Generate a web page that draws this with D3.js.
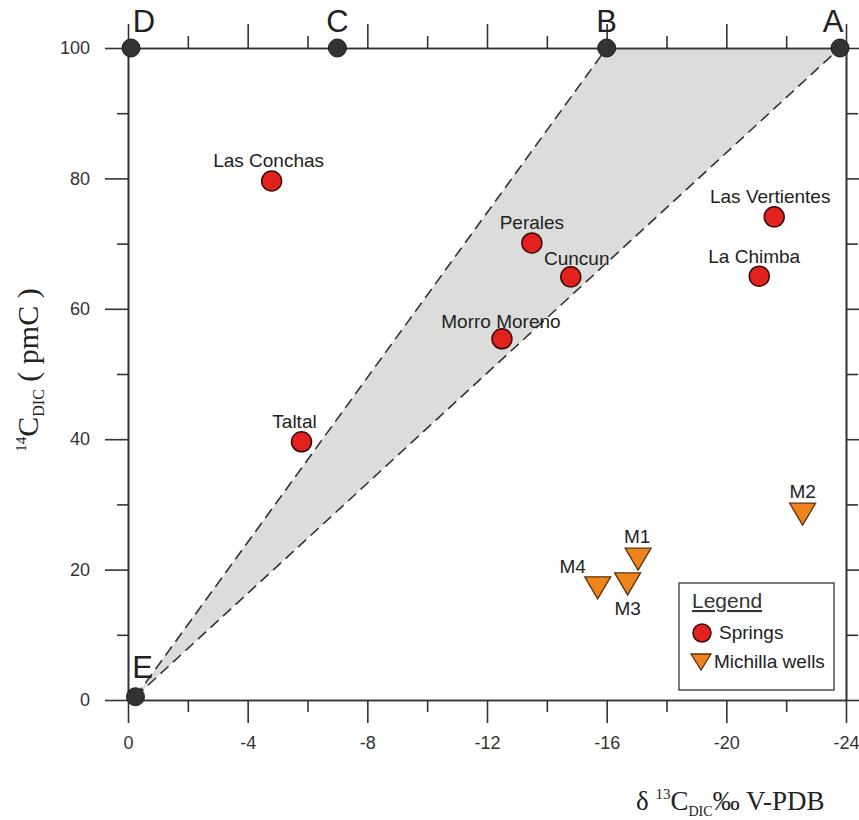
<!DOCTYPE html>
<html>
<head>
<meta charset="utf-8">
<script src="https://cdn.jsdelivr.net/npm/d3@7"></script>
<style>
  body { margin: 0; background: #fff; }
  svg { display: block; }
  .tick text { font-family: Arial, "Liberation Sans", sans-serif; font-size: 18px; fill: #333; }
</style>
</head>
<body>
<svg id="chart" width="859" height="820"></svg>
<script>
// end members on the 14C = 100 line and the origin
const memberNames = ['D', 'C', 'B', 'A', 'E'];
const memberD13C = [-0.1, -7.0, -16.0, -23.8, -0.25];
const memberC14 = [100, 100, 100, 100, 0.5];

// springs
const springNames = ['Las Conchas', 'Taltal', 'Perales', 'Cuncun', 'Morro Moreno', 'Las Vertientes', 'La Chimba'];
const springD13C = [-4.8, -5.8, -13.5, -14.8, -12.5, -21.6, -21.1];
const springC14 = [79.6, 39.6, 70.1, 64.9, 55.4, 74.1, 65.0];

// Michilla wells
const wellNames = ['M1', 'M2', 'M3', 'M4'];
const wellD13C = [-17.05, -22.55, -16.7, -15.7];
const wellC14 = [21.6, 28.5, 17.8, 17.2];

const xMajor = [0, -4, -8, -12, -16, -20, -24];
const xMinor = [-2, -6, -10, -14, -18, -22];
const yMajor = [0, 20, 40, 60, 80, 100];
const yMinor = [10, 30, 50, 70, 90];

const svg = d3.select('#chart');
const x = d3.scaleLinear().domain([0, -24]).range([128, 846]);
const y = d3.scaleLinear().domain([0, 100]).range([700, 48]);

const font = 'Arial, "Liberation Sans", sans-serif';
const ink = '#333';

// shaded mixing zone E-B-A
const E = [memberD13C[4], memberC14[4]];
const B = [memberD13C[2], memberC14[2]];
const A = [memberD13C[3], memberC14[3]];
svg.append('path')
  .attr('d', 'M' + [E, B, A].map(p => [x(p[0]), y(p[1])]).join('L') + 'Z')
  .attr('fill', '#dcdddb');
[[E, B], [E, A]].forEach(seg => {
  svg.append('line')
    .attr('x1', x(seg[0][0])).attr('y1', y(seg[0][1]))
    .attr('x2', x(seg[1][0])).attr('y2', y(seg[1][1]))
    .attr('stroke', ink).attr('stroke-width', 1.6)
    .attr('stroke-dasharray', '11,6');
});

// axes: major and minor ticks on all four sides
const styleAxis = g => {
  g.selectAll('path, line').attr('stroke', ink).attr('stroke-width', 1.6);
  g.select('.domain').attr('stroke', ink);
};
const addAxis = (gen, tr, vals, size, labels) => {
  const g = svg.append('g').attr('transform', tr)
    .call(gen.tickValues(vals).tickSize(size).tickSizeOuter(0)
      .tickFormat(labels ? d => String(d) : ''));
  styleAxis(g);
  return g;
};
addAxis(d3.axisBottom(x), 'translate(0,700)', xMinor, 12, false);
const xb = addAxis(d3.axisBottom(x), 'translate(0,700)', xMajor, 23, true);
xb.selectAll('text').attr('y', 49).attr('dy', 0);
addAxis(d3.axisTop(x), 'translate(0,48)', xMinor, 12, false);
addAxis(d3.axisTop(x), 'translate(0,48)', xMajor, 24, false);

addAxis(d3.axisLeft(y), 'translate(128,0)', yMinor, 11, false);
const yl = addAxis(d3.axisLeft(y), 'translate(128,0)', yMajor, 23, true);
yl.selectAll('text').attr('x', -38);
addAxis(d3.axisRight(y), 'translate(846,0)', yMinor, 12, false);
addAxis(d3.axisRight(y), 'translate(846,0)', yMajor, 24, false);

// end member dots and letters
const letterShift = { D: [13, -16], C: [0, -16], B: [0, -16], A: [-7, -16], E: [7, -19] };
memberNames.forEach((n, i) => {
  const cx = x(memberD13C[i]), cy = y(memberC14[i]);
  svg.append('circle').attr('cx', cx).attr('cy', cy).attr('r', 9)
    .attr('fill', '#333').attr('stroke', '#1a1a1a').attr('stroke-width', 1);
  svg.append('text').attr('x', cx + letterShift[n][0]).attr('y', cy + letterShift[n][1])
    .attr('text-anchor', 'middle').attr('font-family', font).attr('font-size', 31)
    .attr('fill', '#222').text(n);
});

// springs
const springShift = {
  'Las Conchas': [-3, -14], 'Taltal': [-7, -14], 'Perales': [0, -14], 'Cuncun': [6, -12],
  'Morro Moreno': [-1, -11], 'Las Vertientes': [-4, -14], 'La Chimba': [-5, -13]
};
springNames.forEach((n, i) => {
  const cx = x(springD13C[i]), cy = y(springC14[i]);
  svg.append('circle').attr('cx', cx).attr('cy', cy).attr('r', 10)
    .attr('fill', '#e1221d').attr('stroke', '#3d0b0b').attr('stroke-width', 1.5);
  svg.append('text').attr('x', cx + springShift[n][0]).attr('y', cy + springShift[n][1])
    .attr('text-anchor', 'middle').attr('font-family', font).attr('font-size', 19)
    .attr('fill', '#222').text(n);
});

// wells
const tri = (cx, cy, w, h) => `M${cx - w / 2},${cy - h / 2}L${cx + w / 2},${cy - h / 2}L${cx},${cy + h / 2}Z`;
const wellShift = { M1: [-1, -16], M2: [0, -16], M3: [0, 31], M4: [-25, -15] };
wellNames.forEach((n, i) => {
  const cx = x(wellD13C[i]), cy = y(wellC14[i]);
  svg.append('path').attr('d', tri(cx, cy, 26, 22))
    .attr('fill', '#f0841c').attr('stroke', '#5a3210').attr('stroke-width', 1.3);
  svg.append('text').attr('x', cx + wellShift[n][0]).attr('y', cy + wellShift[n][1])
    .attr('text-anchor', 'middle').attr('font-family', font).attr('font-size', 19)
    .attr('fill', '#222').text(n);
});

// legend
const lg = svg.append('g');
lg.append('rect').attr('x', 679).attr('y', 583).attr('width', 155).attr('height', 107)
  .attr('fill', '#fff').attr('stroke', ink).attr('stroke-width', 1.3);
lg.append('text').attr('x', 692).attr('y', 608).attr('font-family', font).attr('font-size', 21)
  .attr('fill', '#333').attr('text-decoration', 'underline').text('Legend');
lg.append('circle').attr('cx', 702).attr('cy', 633).attr('r', 9)
  .attr('fill', '#e1221d').attr('stroke', '#3d0b0b').attr('stroke-width', 1.5);
lg.append('text').attr('x', 719).attr('y', 639).attr('font-family', font).attr('font-size', 19)
  .attr('fill', '#222').text('Springs');
lg.append('path').attr('d', tri(701, 662, 20, 16))
  .attr('fill', '#f0841c').attr('stroke', '#5a3210').attr('stroke-width', 1.3);
lg.append('text').attr('x', 714).attr('y', 668).attr('font-family', font).attr('font-size', 19)
  .attr('fill', '#222').text('Michilla wells');

// axis titles (serif)
const serif = '"Times New Roman", "Liberation Serif", "DejaVu Serif", serif';
const xt = svg.append('text').attr('x', 636).attr('y', 810)
  .attr('font-family', serif).attr('font-size', 27).attr('fill', '#222');
xt.append('tspan').text('δ ');
xt.append('tspan').attr('font-size', 15).attr('dy', -11).text('13');
xt.append('tspan').attr('dy', 11).text('C');
xt.append('tspan').attr('font-size', 14).attr('dy', 6).text('DIC');
xt.append('tspan').attr('dy', -6).text('‰ V-PDB');

const yt = svg.append('text').attr('transform', 'translate(38,370) rotate(-90)')
  .attr('text-anchor', 'middle')
  .attr('font-family', serif).attr('font-size', 30).attr('fill', '#222');
yt.append('tspan').attr('font-size', 15).attr('dy', -12).text('14');
yt.append('tspan').attr('dy', 12).text('C');
yt.append('tspan').attr('font-size', 16).attr('dy', 6).text('DIC');
yt.append('tspan').attr('dy', -6).text(' ( pmC )');
</script>
</body>
</html>
